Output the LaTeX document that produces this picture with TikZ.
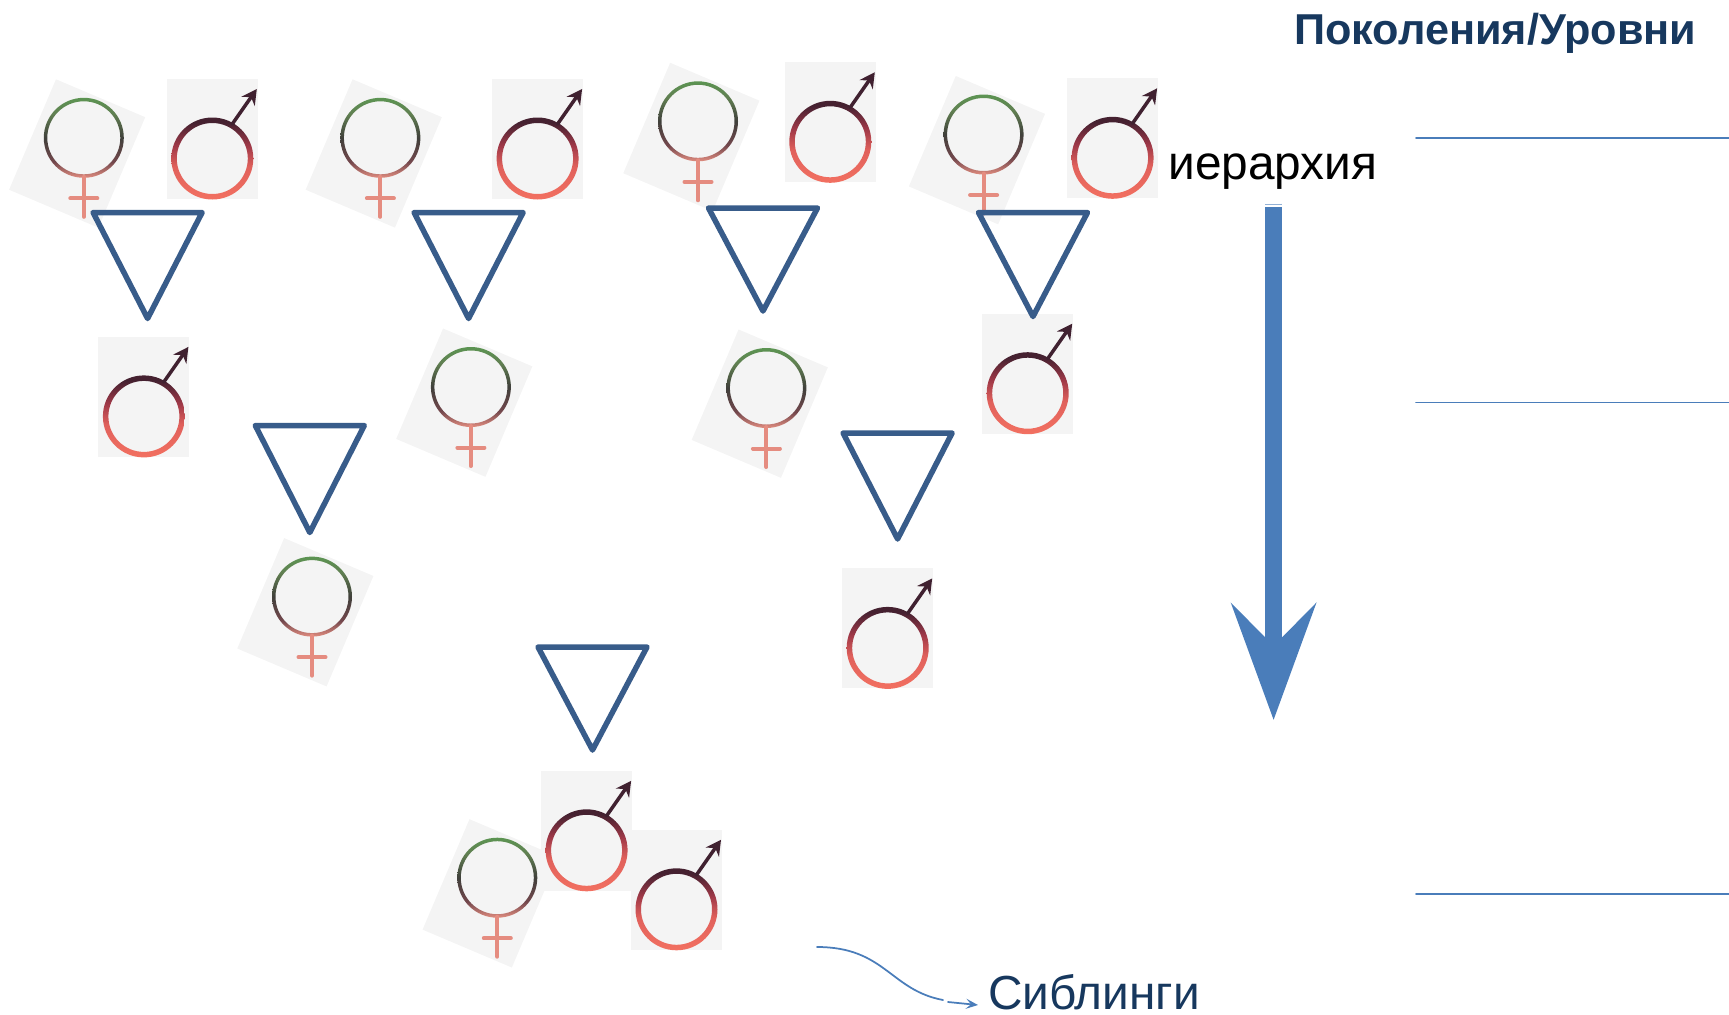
\documentclass[tikz,border=0pt]{standalone}
\usepackage{fontspec}
\setmainfont{Liberation Sans}
\usetikzlibrary{arrows.meta}
\definecolor{panelgr}{rgb}{0.955,0.955,0.955}
\definecolor{tribl}{rgb}{0.22,0.36,0.54}
\definecolor{arrbl}{rgb}{0.29,0.49,0.73}
\definecolor{titlebl}{rgb}{0.09,0.22,0.37}
\definecolor{mdark}{rgb}{0.25,0.13,0.19}
\definecolor{fpink}{rgb}{0.9,0.55,0.5}
\pgfdeclareverticalshading{malering}{100bp}{
  rgb(0bp)=(0.95,0.44,0.38); rgb(25bp)=(0.95,0.44,0.38); rgb(45bp)=(0.88,0.38,0.36);
  rgb(58bp)=(0.62,0.22,0.28); rgb(72bp)=(0.27,0.13,0.19); rgb(100bp)=(0.27,0.13,0.19)}
\pgfdeclareverticalshading{femring}{100bp}{
  rgb(0bp)=(0.88,0.55,0.5); rgb(25bp)=(0.88,0.55,0.5); rgb(35bp)=(0.45,0.28,0.3);
  rgb(50bp)=(0.25,0.25,0.23); rgb(65bp)=(0.38,0.5,0.32); rgb(75bp)=(0.36,0.58,0.32); rgb(100bp)=(0.36,0.58,0.32)}
\tikzset{
  pics/femsym/.style={code={
    \fill[panelgr,rotate=-23] (-48.5,-43) rectangle (48.5,77);
    \shade[even odd rule,shading=femring] (0,0) circle (40) circle (36.5);
    \draw[fpink,line width=0.08cm] (0,39)-- (0,79);
    \draw[fpink,line width=0.08cm] (-13.5,60.5)-- (13.5,60.5);
  }},
  pics/malesym/.style={code={
    \fill[panelgr] (-45.5,-60) rectangle (45.5,60);
    \shade[even odd rule,shading=malering] (0,19.5) circle (41) circle (35.5);
    \draw[mdark,line width=0.07cm,-{Stealth[length=0.3cm,width=0.32cm,inset=0.1cm]}] (20,-15)-- (44.5,-50);
  }},
  lvl/.style={arrbl,line width=0.035cm},
  tri/.style={tribl,line width=0.11cm,line join=round}
}
\begin{document}
\begin{tikzpicture}[line cap=round,line join=round,x=0.02cm,y=-0.02cm]
\useasboundingbox (0,0) rectangle (1729,1015);
\foreach \px/\py in {83.8/137.8,380.4/137.8,698/121.3,983.6/134.5,470.9/387,766.4/388,312/596.6,497.3/877.7}
  \pic at (\px,\py) {femsym};
\foreach \px/\py in {212.3/139,537.6/139,830.3/122.3,1112.6/138.3,143.9/396.9,1027.7/373.7,887.7/628.4,586.6/830.8,676.5/889.8}
  \pic at (\px,\py) {malesym};
\foreach \tx/\ty/\th in {147.6/212.5/106,468.6/212.5/106,763/208/103,1033/212.5/104,309.8/425.5/107,897.6/433/106,592.5/647/103}
  \draw[tri] (\tx-54.5,\ty)-- (\tx+54.5,\ty)-- (\tx,\ty+\th)-- cycle;
\draw[lvl] (1416,137.8)-- (1729,137.8);
\draw[lvl] (1416,402.5)-- (1729,402.5);
\draw[lvl] (1416,894.3)-- (1729,894.3);
\node[anchor=base west,inner sep=0pt,text=titlebl,font=\bfseries\fontsize{24.6}{24.6}\selectfont] (titlenode) at (1294,44) {Поколения/Уровни};
\node[anchor=base west,inner sep=0pt,font=\fontsize{27.2}{27.2}\selectfont] (hiernode) at (1168,179) {иерархия};
\node[anchor=base west,inner sep=0pt,text=titlebl,font=\fontsize{27.2}{27.2}\selectfont] (sibnode) at (988,1009) {Сиблинги};
\coordinate (hiertop) at (1273.6,207);
\coordinate (hiertip) at (1273.6,720);
\draw[arrbl!60,line width=0.34cm,line cap=butt] (1273.6,203.5)-- (1273.6,204.5);
\draw[arrbl,line width=0.34cm,line cap=butt,-{Stealth[length=2.32cm,width=1.68cm,inset=0.84cm]}] (hiertop)-- (hiertip);
\coordinate (sibstart) at (817,947);
\coordinate (sibgap) at (943,1000);
\coordinate (sibgapb) at (948,1002);
\coordinate (sibend) at (978,1005);
\draw[arrbl,line width=0.035cm] (sibstart) .. controls (885,947) and (890,990) .. (sibgap);
\draw[arrbl,line width=0.035cm,-{Stealth[length=0.24cm,width=0.2cm,inset=0.1cm]}] (sibgapb)-- (sibend);
\end{tikzpicture}
\end{document}
